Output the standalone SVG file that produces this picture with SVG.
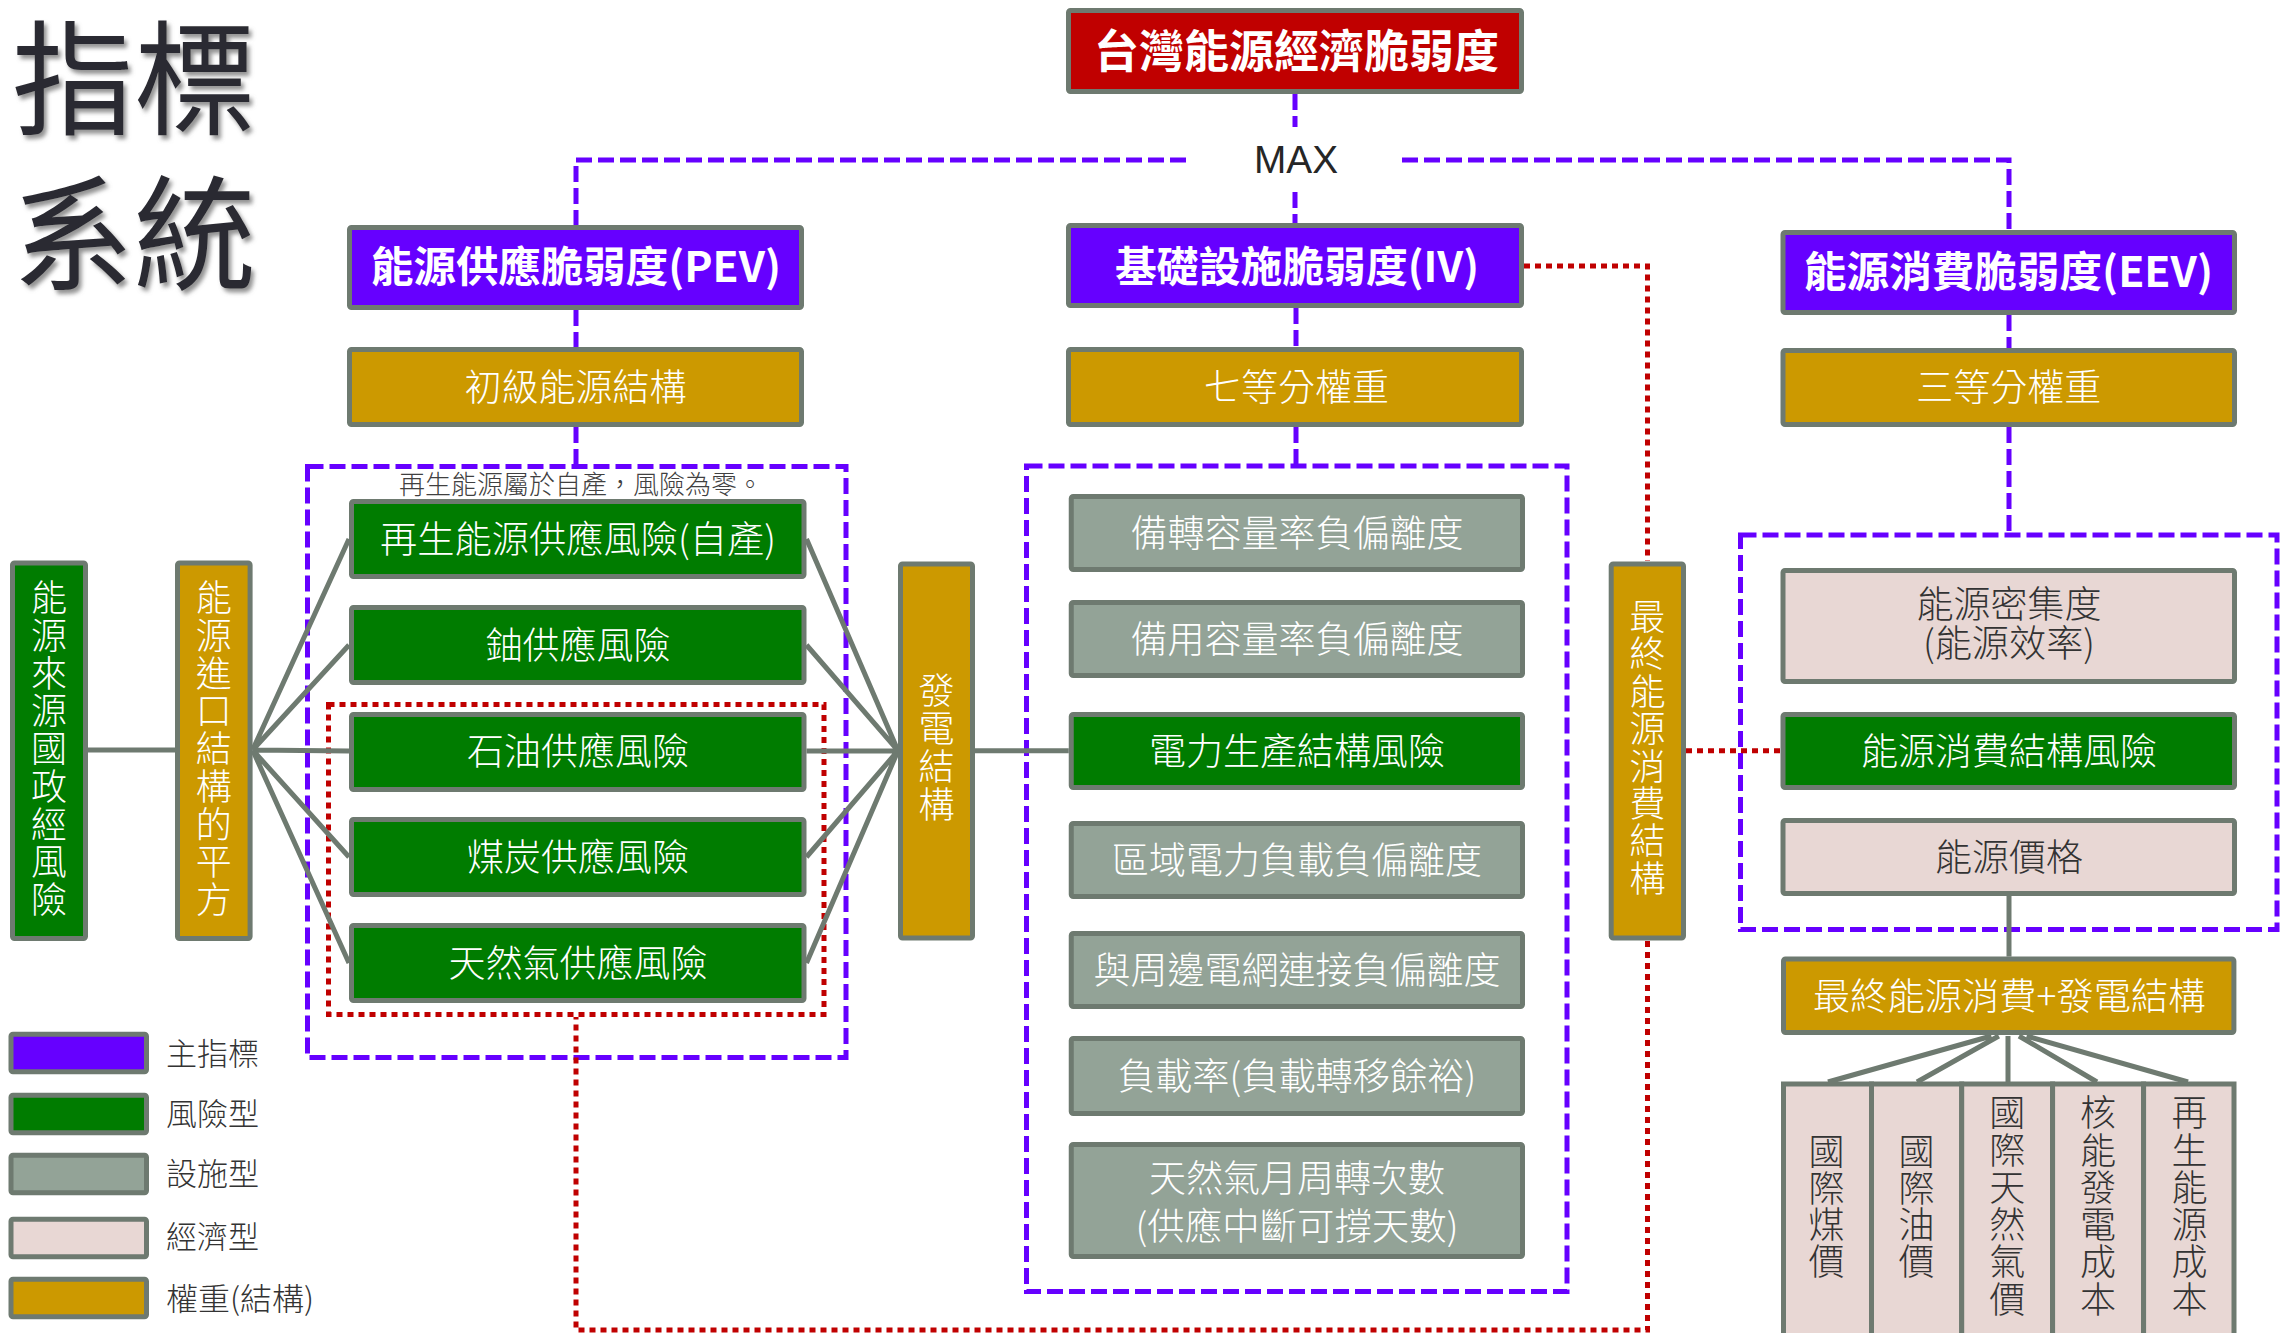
<svg xmlns="http://www.w3.org/2000/svg" width="2282" height="1333" viewBox="0 0 2282 1333">
<defs>
<style>
.box{stroke:#6E7A70;stroke-width:5}
.pur{fill:#6600FF}.red{fill:#C00000}.grn{fill:#007C00}.gry{fill:#93A397}.pnk{fill:#E8D7D4}.gld{fill:#CC9900}
.t{font-family:"Noto Sans CJK TC","Noto Sans CJK SC",sans-serif;text-anchor:middle;fill:#FFFFFF;font-weight:300}
.v{font-family:"Noto Sans CJK TC","Noto Sans CJK SC",sans-serif;text-anchor:middle;fill:#FFFFFF;font-weight:300;font-size:36px}
.b{font-weight:700}
.dk{fill:#333333}
.pd{fill:none;stroke:#6600FF;stroke-width:5;stroke-dasharray:16 6}
.rd{fill:none;stroke:#C00000;stroke-width:5;stroke-dasharray:6 5}
.ln{fill:none;stroke:#6E7A70;stroke-width:5}
</style>
<filter id="sh" filterUnits="userSpaceOnUse" x="0" y="0" width="320" height="320">
<feDropShadow dx="3" dy="4" stdDeviation="2" flood-color="#777777" flood-opacity="0.8"/>
</filter>
</defs>
<rect width="2282" height="1333" fill="#FFFFFF"/>

<g id="title" filter="url(#sh)">
<text x="12" y="125" font-family="Noto Sans CJK TC,sans-serif" font-size="124" font-weight="400" fill="#2B2B33" textLength="244" lengthAdjust="spacingAndGlyphs">指標</text>
<text x="12" y="280" font-family="Noto Sans CJK TC,sans-serif" font-size="124" font-weight="400" fill="#2B2B33" textLength="244" lengthAdjust="spacingAndGlyphs">系統</text>
</g>

<g id="groups">
<rect class="pd" x="307.5" y="466.5" width="538.5" height="591"/>
<rect class="pd" x="1026.5" y="466" width="540.5" height="825.5"/>
<rect class="pd" x="1740.5" y="535" width="536.5" height="394.5"/>
<rect class="rd" x="328.5" y="704.5" width="495.5" height="310"/>
</g>

<g id="connectors">
<path class="pd" d="M1295,94 V127 M1295,192 V224"/>
<path class="pd" d="M576,226 V160 H1190 M1402,160 H2009 V231"/>
<path class="pd" d="M576,310 V347 M576,427 V464 M1296,308 V347 M1296,427 V464 M2009,315 V348 M2009,427 V533"/>
<path class="rd" d="M1524,266 H1647.5 V561"/>
<path class="rd" d="M1647.5,941 V1330 H576 V1017"/>
<path class="rd" d="M1686,750.7 H1780.5"/>
<path class="ln" d="M88,750 H175"/>
<path class="ln" d="M252.6,750 L349,539 M252.6,750 L349,645 M252.6,750 L349,751 M252.6,750 L349,857 M252.6,750 L349,963"/>
<path class="ln" d="M806.5,539 L898,750.7 M806.5,645 L898,750.7 M806.5,751 L898,750.7 M806.5,857 L898,750.7 M806.5,963 L898,750.7"/>
<path class="ln" d="M975,750.7 H1068.75"/>
<path class="ln" d="M2009,896 V956.6"/>
<path class="ln" d="M1991.4,1036 L1828,1082 M1998.8,1036 L1917,1082 M2008,1036 L2008,1082 M2019,1036 L2097,1082 M2026.6,1036 L2188,1082"/>
</g>

<g id="max"><text x="1296" y="173" font-family="Liberation Sans,Arial,sans-serif" font-size="39" fill="#262626" text-anchor="middle" textLength="84" lengthAdjust="spacingAndGlyphs">MAX</text></g>

<g id="n-top"><rect class="box red" x="1068.5" y="10.5" width="453" height="81" rx="2"/>
<text class="t b" x="1296.5" y="67.6" font-size="45">台灣能源經濟脆弱度</text></g>

<g id="n-pev"><rect class="box pur" x="349.5" y="227.5" width="452" height="80" rx="2"/>
<text class="t b" x="576" y="282" font-size="42" textLength="410" lengthAdjust="spacingAndGlyphs">能源供應脆弱度(PEV)</text></g>
<g id="n-iv"><rect class="box pur" x="1068.5" y="225.5" width="453" height="80" rx="2"/>
<text class="t b" x="1297" y="282" font-size="42" textLength="364" lengthAdjust="spacingAndGlyphs">基礎設施脆弱度(IV)</text></g>
<g id="n-eev"><rect class="box pur" x="1783" y="232.5" width="451.5" height="80" rx="2"/>
<text class="t b" x="2008.5" y="287" font-size="42" textLength="409" lengthAdjust="spacingAndGlyphs">能源消費脆弱度(EEV)</text></g>

<g id="n-w1"><rect class="box gld" x="349.5" y="349.5" width="452" height="75" rx="2"/>
<text class="t" x="575.5" y="400.5" font-size="37">初級能源結構</text></g>
<g id="n-w2"><rect class="box gld" x="1068.5" y="349.5" width="453" height="75" rx="2"/>
<text class="t" x="1296.5" y="400.5" font-size="37">七等分權重</text></g>
<g id="n-w3"><rect class="box gld" x="1783" y="350.5" width="451.5" height="74" rx="2"/>
<text class="t" x="2008.75" y="400.5" font-size="37">三等分權重</text></g>

<g id="note"><text class="t" x="581" y="494.4" font-size="26" style="fill:#404040">再生能源屬於自產，風險為零。</text></g>

<g id="n-src"><rect class="box grn" x="12.5" y="563" width="73" height="375.5" rx="2"/>
<text class="v" x="49" y="611">能</text><text class="v" x="49" y="648.75">源</text><text class="v" x="49" y="686.5">來</text><text class="v" x="49" y="724.25">源</text><text class="v" x="49" y="762">國</text><text class="v" x="49" y="799.75">政</text><text class="v" x="49" y="837.5">經</text><text class="v" x="49" y="875.25">風</text><text class="v" x="49" y="913">險</text></g>
<g id="n-imp"><rect class="box gld" x="177.5" y="563" width="72.6" height="375.5" rx="2"/>
<text class="v" x="213.8" y="611">能</text><text class="v" x="213.8" y="648.75">源</text><text class="v" x="213.8" y="686.5">進</text><text class="v" x="213.8" y="724.25">口</text><text class="v" x="213.8" y="762">結</text><text class="v" x="213.8" y="799.75">構</text><text class="v" x="213.8" y="837.5">的</text><text class="v" x="213.8" y="875.25">平</text><text class="v" x="213.8" y="913">方</text></g>

<g id="n-re"><rect class="box grn" x="351.5" y="501.5" width="452.5" height="75" rx="2"/>
<text class="t" x="578" y="552.7" font-size="37" textLength="396" lengthAdjust="spacingAndGlyphs">再生能源供應風險(自產)</text></g>
<g id="n-u"><rect class="box grn" x="351.5" y="607.5" width="452.5" height="75" rx="2"/>
<text class="t" x="578" y="658.7" font-size="37">鈾供應風險</text></g>
<g id="n-oil"><rect class="box grn" x="351.5" y="714.5" width="452.5" height="75" rx="2"/>
<text class="t" x="578" y="764.7" font-size="37">石油供應風險</text></g>
<g id="n-coal"><rect class="box grn" x="351.5" y="819.5" width="452.5" height="75" rx="2"/>
<text class="t" x="578" y="870.7" font-size="37">煤炭供應風險</text></g>
<g id="n-gas"><rect class="box grn" x="351.5" y="925.5" width="452.5" height="75" rx="2"/>
<text class="t" x="578" y="976.7" font-size="37">天然氣供應風險</text></g>

<g id="n-gen"><rect class="box gld" x="900.5" y="564" width="72" height="374" rx="2"/>
<text class="v" x="936.5" y="703.5">發</text><text class="v" x="936.5" y="741.5">電</text><text class="v" x="936.5" y="779.5">結</text><text class="v" x="936.5" y="817.5">構</text></g>

<g id="n-i1"><rect class="box gry" x="1071.25" y="496.5" width="451.25" height="73" rx="2"/>
<text class="t" x="1297" y="546.7" font-size="37">備轉容量率負偏離度</text></g>
<g id="n-i2"><rect class="box gry" x="1071.25" y="602.5" width="451.25" height="73" rx="2"/>
<text class="t" x="1297" y="652.7" font-size="37">備用容量率負偏離度</text></g>
<g id="n-i3"><rect class="box grn" x="1071.25" y="714.5" width="451.25" height="73" rx="2"/>
<text class="t" x="1297" y="764.7" font-size="37">電力生產結構風險</text></g>
<g id="n-i4"><rect class="box gry" x="1071.25" y="823.5" width="451.25" height="73" rx="2"/>
<text class="t" x="1297" y="873.7" font-size="37">區域電力負載負偏離度</text></g>
<g id="n-i5"><rect class="box gry" x="1071.25" y="933.5" width="451.25" height="73" rx="2"/>
<text class="t" x="1297" y="983.7" font-size="37">與周邊電網連接負偏離度</text></g>
<g id="n-i6"><rect class="box gry" x="1071.25" y="1038.5" width="451.25" height="75" rx="2"/>
<text class="t" x="1297" y="1089.7" font-size="37" textLength="358.5" lengthAdjust="spacingAndGlyphs">負載率(負載轉移餘裕)</text></g>
<g id="n-i7"><rect class="box gry" x="1071.25" y="1144.5" width="451.25" height="112" rx="2"/>
<text class="t" x="1297" y="1191.7" font-size="37">天然氣月周轉次數</text>
<text class="t" x="1297" y="1239.7" font-size="37" textLength="323" lengthAdjust="spacingAndGlyphs">(供應中斷可撐天數)</text></g>

<g id="n-fin"><rect class="box gld" x="1611.2" y="564" width="72.3" height="374" rx="2"/>
<text class="v" x="1647.5" y="630">最</text><text class="v" x="1647.5" y="667.4">終</text><text class="v" x="1647.5" y="704.8">能</text><text class="v" x="1647.5" y="742.2">源</text><text class="v" x="1647.5" y="779.6">消</text><text class="v" x="1647.5" y="817">費</text><text class="v" x="1647.5" y="854.4">結</text><text class="v" x="1647.5" y="891.8">構</text></g>

<g id="n-e1"><rect class="box pnk" x="1783" y="570.5" width="451.5" height="111" rx="2"/>
<text class="t dk" x="2009" y="617.7" font-size="37">能源密集度</text>
<text class="t dk" x="2009" y="657" font-size="37" textLength="172" lengthAdjust="spacingAndGlyphs">(能源效率)</text></g>
<g id="n-e2"><rect class="box grn" x="1783" y="714.5" width="451.5" height="73" rx="2"/>
<text class="t" x="2009" y="764.7" font-size="37">能源消費結構風險</text></g>
<g id="n-e3"><rect class="box pnk" x="1783" y="820.5" width="451.5" height="73" rx="2"/>
<text class="t dk" x="2009" y="870.7" font-size="37">能源價格</text></g>
<g id="n-e4"><rect class="box gld" x="1783.5" y="959" width="450.4" height="73.5" rx="2"/>
<text class="t" x="2009.3" y="1009.5" font-size="37" textLength="392.6" lengthAdjust="spacingAndGlyphs">最終能源消費+發電結構</text></g>

<g id="n-c1"><rect class="box pnk" x="1783.5" y="1084" width="88" height="270"/>
<text class="v dk" x="1826.5" y="1164.9">國</text><text class="v dk" x="1826.5" y="1201.5">際</text><text class="v dk" x="1826.5" y="1238.1">煤</text><text class="v dk" x="1826.5" y="1274.7">價</text></g>
<g id="n-c2"><rect class="box pnk" x="1871.5" y="1084" width="90.2" height="270"/>
<text class="v dk" x="1916.6" y="1164.9">國</text><text class="v dk" x="1916.6" y="1201.5">際</text><text class="v dk" x="1916.6" y="1238.1">油</text><text class="v dk" x="1916.6" y="1274.7">價</text></g>
<g id="n-c3"><rect class="box pnk" x="1961.7" y="1084" width="90.9" height="270"/>
<text class="v dk" x="2007.2" y="1126.2">國</text><text class="v dk" x="2007.2" y="1163.5">際</text><text class="v dk" x="2007.2" y="1200.8">天</text><text class="v dk" x="2007.2" y="1238.1">然</text><text class="v dk" x="2007.2" y="1275.4">氣</text><text class="v dk" x="2007.2" y="1312.7">價</text></g>
<g id="n-c4"><rect class="box pnk" x="2052.6" y="1084" width="91" height="270"/>
<text class="v dk" x="2098" y="1126.2">核</text><text class="v dk" x="2098" y="1163.5">能</text><text class="v dk" x="2098" y="1200.8">發</text><text class="v dk" x="2098" y="1238.1">電</text><text class="v dk" x="2098" y="1275.4">成</text><text class="v dk" x="2098" y="1312.7">本</text></g>
<g id="n-c5"><rect class="box pnk" x="2143.6" y="1084" width="90.4" height="270"/>
<text class="v dk" x="2189.5" y="1126.2">再</text><text class="v dk" x="2189.5" y="1163.5">生</text><text class="v dk" x="2189.5" y="1200.8">能</text><text class="v dk" x="2189.5" y="1238.1">源</text><text class="v dk" x="2189.5" y="1275.4">成</text><text class="v dk" x="2189.5" y="1312.7">本</text></g>

<g id="legend">
<rect class="box pur" x="11" y="1034.2" width="135.5" height="37.5" rx="2"/>
<rect class="box grn" x="11" y="1095.2" width="135.5" height="37.5" rx="2"/>
<rect class="box gry" x="11" y="1155.2" width="135.5" height="37.5" rx="2"/>
<rect class="box pnk" x="11" y="1219.2" width="135.5" height="37.5" rx="2"/>
<rect class="box gld" x="11" y="1279.2" width="135.5" height="37.5" rx="2"/>
<g font-family="Noto Sans CJK TC,sans-serif" font-size="31" font-weight="300" fill="#333333">
<text x="166" y="1064.5">主指標</text>
<text x="166" y="1125">風險型</text>
<text x="166" y="1185">設施型</text>
<text x="166" y="1248">經濟型</text>
<text x="166" y="1309.5" textLength="148" lengthAdjust="spacingAndGlyphs">權重(結構)</text>
</g>
</g>
</svg>
